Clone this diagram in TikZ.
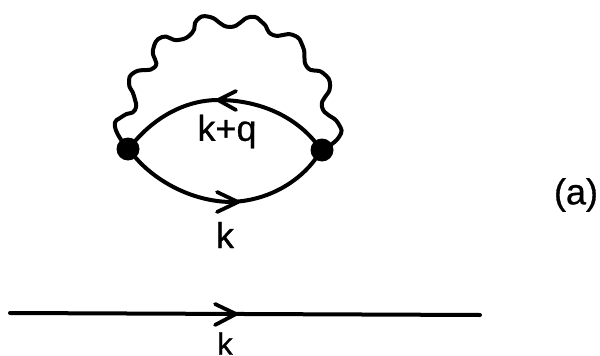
\documentclass[tikz,border=0pt]{standalone}
\usepackage{fontspec}
\setmainfont{Liberation Sans}[FakeBold=0.8]
\usetikzlibrary{arrows.meta}
\tikzset{
  lbl/.style={inner sep=0pt,font=\fontsize{36}{36}\selectfont,text=black},
  lblsmall/.style={inner sep=0pt,font=\fontsize{31}{31}\selectfont,text=black},
  vertex/.style={circle,fill=black,draw=none,minimum size=23pt,inner sep=0pt},
  fermion/.style={line width=4pt,line cap=round,black},
  photon/.style={line width=4pt,line cap=round,line join=round,black},
  chev/.style={line width=3.8pt,line cap=round,line join=round,black},
}
\begin{document}
\begin{tikzpicture}[x=1pt,y=-1pt]
\useasboundingbox (0,0) rectangle (600,356);
\node[vertex] (L) at (128,149) {};
\node[vertex] (R) at (322,150) {};
\draw[fermion] (L) .. controls (160,113) and (190,100) .. (218,100) .. controls (262,100) and (295,118) .. (R);
\draw[fermion] (L) .. controls (155,180) and (190,201) .. (230,202) .. controls (270,201) and (300,180) .. (R);
\draw[chev] (236,91) -- (218,100) -- (236,110);
\draw[chev] (217,192) -- (238,202) -- (217,212);
\draw[photon] plot[smooth,tension=0.9] coordinates {(L)
 (115,127) (123,116) (135,110) (134,96) (129,83) (135,72) (155,67) (153,50) (162,37) (178,40) (192,33) (197,20) (210,17) (230,27) (250,17) (263,23) (273,35) (293,35) (303,47) (307,67) (323,73) (330,87) (322,107) (338,123) (339,137) (R)};
\coordinate (a) at (10,313);
\coordinate (b) at (480,315);
\draw[fermion] (a) -- (b);
\draw[chev] (215,304) -- (236,314) -- (215,325);
\node[lbl] (t1) at (227,131.5) {k+q};
\node[lbl] (t2) at (225,235) {k};
\node[lblsmall] (t3) at (225,343.5) {k};
\node[lbl] (t4) at (576,195) {(a)};
\end{tikzpicture}
\end{document}
